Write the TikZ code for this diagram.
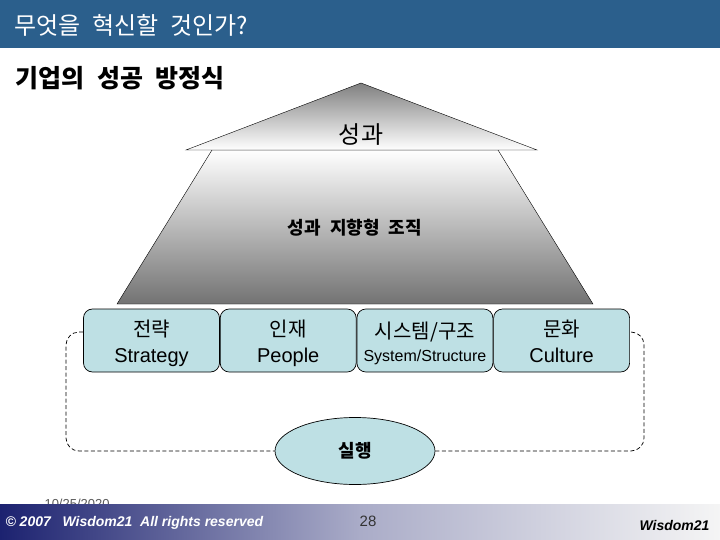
\documentclass[tikz,border=0pt]{standalone}
\usepackage{fontspec}
\setmainfont{Liberation Sans}
\newfontfamily\kr[WordSpace=2.2]{Noto Sans CJK KR}
\usetikzlibrary{positioning,shapes.geometric}
\definecolor{headblue}{RGB}{43,95,140}
\definecolor{pillarfill}{RGB}{190,224,228}
\definecolor{footnavy}{RGB}{28,34,112}
\definecolor{footmid}{RGB}{170,172,200}
\newcommand{\topline}[1]{{\kr\rule{0pt}{23pt}#1}}
\newcommand{\lowline}{\rule[-5pt]{0pt}{5pt}}

\begin{document}
\begin{tikzpicture}[x=1pt,y=-1pt,
  pillar/.style={draw=black,line width=0.7pt,fill=pillarfill,rounded corners=9pt,
    minimum width=136pt,minimum height=63pt,inner sep=0pt,align=center,
    font=\fontsize{20}{26}\selectfont},
  loopline/.style={draw=black,line width=0.7pt,dash pattern=on 4pt off 2.5pt,rounded corners=13pt}]
  \useasboundingbox (0,0) rectangle (720,540);

  % Header
  \fill[headblue] (0,0) rectangle (720,48);
  \node[anchor=west,text=white,font=\kr\fontsize{24}{24}\selectfont] (title) at (11,25) {무엇을 혁신할 것인가?};
  \node[anchor=west,font=\kr\fontsize{25}{25}\selectfont\bfseries] (subtitle) at (12,78) {기업의 성공 방정식};

  % Body and roof
  \draw[draw=black,top color=white,bottom color=black!55] (212,150) -- (498,150) -- (593,304) -- (117,304) -- cycle;
  \draw[draw=black,top color=black!50,bottom color=white] (361,83) -- (537,150) -- (186,150) -- cycle;
  \node[font=\kr\fontsize{24}{24}\selectfont] (roof) at (361,135) {성과};
  \node[font=\kr\fontsize{18}{18}\selectfont\bfseries] (org) at (355,228) {성과 지향형 조직};

  % Pillars
  \node[pillar] (b1) at (151.5,340.5) {\topline{전략}\\Strategy\lowline};
  \node[pillar,right=0pt of b1] (b2) {\topline{인재}\\People\lowline};
  \node[pillar,right=0pt of b2] (b3) {\topline{시스템/구조}\\[-3pt]{\fontsize{16}{16}\selectfont System/Structure}\lowline};
  \node[pillar,right=0pt of b3] (b4) {\topline{문화}\\Culture\lowline};

  % Execution loop
  \node[ellipse,draw=black,line width=0.7pt,fill=pillarfill,minimum width=160pt,minimum height=67pt,inner sep=0pt,
    font=\kr\fontsize{18}{18}\selectfont\bfseries] (act) at (355,451) {실행};
  \draw[loopline] ([yshift=8.5pt]b1.west) -- (66,332) -- (66,451) -- (act.west);
  \draw[loopline] (act.east) -- (644,451) -- (644,332) -- ([yshift=8.5pt]b4.east);

  % Footer
  \node[anchor=west,text=black!65,font=\fontsize{13}{13}\selectfont] (date) at (41,504) {10/25/2020};
  \shade[left color=footnavy,right color=white!92!gray,middle color=footmid] (0,504) rectangle (720,540);
  \node[anchor=west,text=white,font=\fontsize{14}{14}\selectfont\bfseries\itshape] (copy) at (2,523)
    {\textcopyright\ 2007\ \ \ Wisdom21\ \ All rights reserved};
  \node[text=black!80,font=\fontsize{15}{15}\selectfont] (pageno) at (368,521) {28};
  \node[anchor=east,font=\fontsize{14}{14}\selectfont\bfseries\itshape] (brand) at (713,525) {Wisdom21};
\end{tikzpicture}
\end{document}
